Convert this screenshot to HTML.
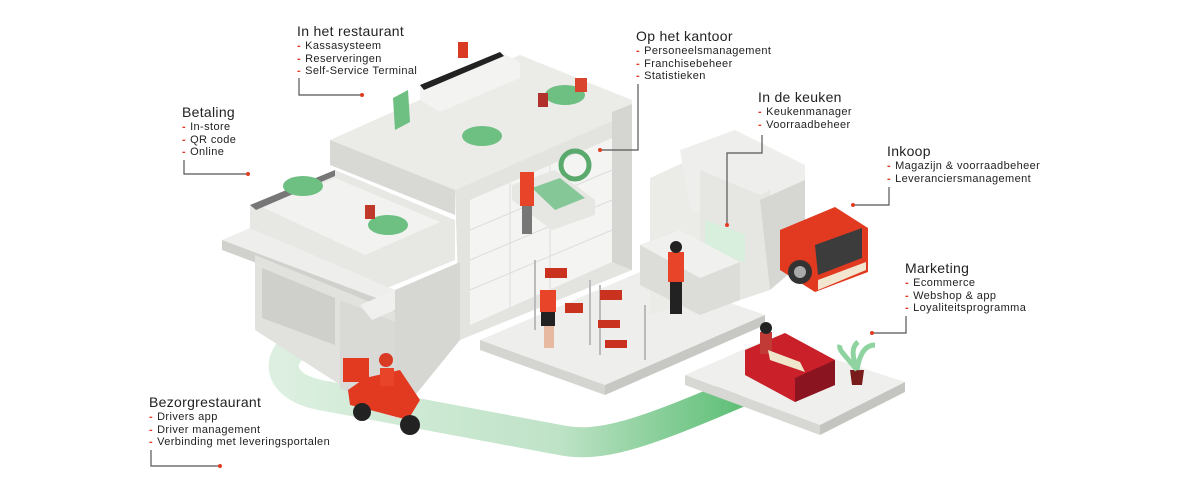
<!DOCTYPE html>
<html><head><meta charset="utf-8"><style>
html,body{margin:0;padding:0;background:#fff;}
body{width:1200px;height:500px;overflow:hidden;position:relative;font-family:"Liberation Sans","DejaVu Sans",sans-serif;}
svg{position:absolute;left:0;top:0;}
.lbl{position:absolute;color:#222;}
.lbl .t{font-size:14px;line-height:16px;margin-bottom:1px;letter-spacing:0.3px;}
.lbl .i{font-size:11px;line-height:12.5px;white-space:nowrap;letter-spacing:0.4px;}
.lbl .i:before{content:"-";color:#e03c22;font-weight:bold;margin-right:4px;}
</style></head><body>
<svg width="1200" height="500" viewBox="0 0 1200 500">
<defs>
<linearGradient id="gp" x1="0" y1="0" x2="1" y2="0"><stop offset="0" stop-color="#dcefe0"/><stop offset="0.6" stop-color="#bfe3c7"/><stop offset="1" stop-color="#5fbf77"/></linearGradient>
</defs>
<path d="M330 330 C270 345,270 385,320 395 L560 440 C600 448,640 435,740 392" fill="none" stroke="url(#gp)" stroke-width="30" stroke-linejoin="round"/>
<polygon points="330,140 520,55 632,100 632,112 455,190 330,160" fill="#ebebe8"/>
<polygon points="330,140 330,165 455,215 455,190" fill="#d8d8d4"/>
<polygon points="420,85 500,52 520,62 520,78 440,112 420,100" fill="#f3f3f1"/>
<polygon points="420,85 500,52 504,56 424,90" fill="#222"/>
<polygon points="393,98 408,90 410,122 395,130" fill="#6dbf82"/>
<polygon points="455,190 632,112 632,270 460,340" fill="#e3e3e0"/>
<polygon points="470,200 612,138 612,262 470,325" fill="#f4f4f2"/>
<g stroke="#ddd" stroke-width="1">
<line x1="470" y1="230" x2="612" y2="170"/><line x1="470" y1="260" x2="612" y2="200"/><line x1="470" y1="290" x2="612" y2="230"/>
<line x1="510" y1="183" x2="510" y2="307"/><line x1="550" y1="165" x2="550" y2="290"/>
</g>
<polygon points="612,112 632,104 632,270 612,262" fill="#d5d5d2"/>
<circle cx="575" cy="165" r="14" fill="none" stroke="#5aaa6e" stroke-width="5"/>
<polygon points="512,185 555,170 595,200 595,215 552,230 512,200" fill="#e6e6e3"/>
<polygon points="532,188 560,178 585,198 555,210" fill="#86c798"/>
<polygon points="250,205 335,170 455,220 455,260 370,295 250,245" fill="#e7e7e4"/>
<polygon points="262,207 335,178 440,222 365,255" fill="#f2f2f0"/>
<polygon points="250,205 335,170 335,176 256,210" fill="#777"/>
<ellipse cx="303" cy="186" rx="20" ry="10" fill="#6dbf82"/>
<ellipse cx="388" cy="225" rx="20" ry="10" fill="#6dbf82"/>
<ellipse cx="482" cy="136" rx="20" ry="10" fill="#6dbf82"/>
<ellipse cx="565" cy="95" rx="20" ry="10" fill="#6dbf82"/>
<polygon points="222,240 250,228 395,290 395,305" fill="#eeeeec"/>
<polygon points="222,240 395,305 395,315 222,250" fill="#d0d0cd"/>
<polygon points="255,255 395,312 395,420 255,330" fill="#e1e1de"/>
<polygon points="262,268 335,298 335,345 262,318" fill="#cfcfcc"/>
<polygon points="340,300 395,322 395,412 340,388" fill="#d9d9d6"/>
<polygon points="395,290 460,262 460,340 395,420" fill="#d6d6d3"/>
<polygon points="360,305 395,290 395,310 372,320" fill="#f0f0ee"/>
<rect x="458" y="42" width="10" height="16" fill="#d93a24"/>
<rect x="520" y="172" width="14" height="34" fill="#e8442a"/><rect x="522" y="206" width="10" height="28" fill="#777"/>
<rect x="365" y="205" width="10" height="14" fill="#c0382a"/>
<rect x="575" y="78" width="12" height="14" fill="#d9442e"/>
<rect x="538" y="93" width="10" height="14" fill="#b2302a"/>
<polygon points="480,340 640,272 765,315 605,385" fill="#eeeeec"/>
<polygon points="480,340 605,385 605,395 480,350" fill="#d4d4d1"/>
<polygon points="605,385 765,315 765,325 605,395" fill="#c7c7c4"/>
<g stroke="#bbb" stroke-width="2" fill="none">
<polyline points="535,260 535,330"/><polyline points="590,280 590,345"/><polyline points="600,285 600,355"/><polyline points="645,305 645,360"/>
</g>
<g fill="#c8321e"><rect x="545" y="268" width="22" height="10"/><rect x="565" y="303" width="18" height="10"/><rect x="600" y="290" width="22" height="10"/><rect x="598" y="320" width="22" height="8"/><rect x="605" y="340" width="22" height="8"/></g>
<rect x="540" y="290" width="16" height="22" fill="#e8442a"/><rect x="541" y="312" width="14" height="14" fill="#222"/><rect x="544" y="326" width="10" height="22" fill="#e6b9a0"/>
<polygon points="650,178 700,155 700,300 650,315" fill="#ebebe8"/>
<polygon points="680,150 735,130 805,165 805,215 760,235 690,210" fill="#eeeeec"/>
<polygon points="700,170 760,195 770,190 770,290 740,300 700,280" fill="#e6e6e3"/>
<polygon points="760,200 805,180 805,260 770,290" fill="#d6d6d3"/>
<rect x="705" y="220" width="40" height="28" fill="#d7efdc" transform="skewY(20)" transform-origin="705 220"/>
<polygon points="640,245 680,230 740,262 740,300 700,315 640,285" fill="#dcdcd9"/>
<polygon points="640,245 680,230 740,262 700,278" fill="#f0f0ee"/>
<rect x="668" y="252" width="16" height="30" fill="#e8442a"/><rect x="670" y="282" width="12" height="32" fill="#222"/><circle cx="676" cy="247" r="6" fill="#222"/>
<polygon points="780,230 835,207 868,228 868,272 815,292 780,270" fill="#e13a20"/>
<polygon points="815,245 862,228 862,258 818,275" fill="#3c3c3c"/>
<circle cx="800" cy="272" r="12" fill="#333"/><circle cx="800" cy="272" r="6" fill="#aaa"/>
<polygon points="818,280 866,262 866,270 818,290" fill="#f2e6d0"/>
<polygon points="685,375 770,338 905,382 820,425" fill="#efefed"/>
<polygon points="685,375 820,425 820,435 685,385" fill="#d7d7d4"/>
<polygon points="820,425 905,382 905,392 820,435" fill="#c4c4c1"/>
<polygon points="745,350 785,333 835,360 835,385 795,402 745,375" fill="#c9202a"/>
<polygon points="795,378 835,360 835,385 795,402" fill="#8a1520"/>
<rect x="760" y="332" width="12" height="22" fill="#c23a35"/><circle cx="766" cy="328" r="6" fill="#222"/>
<polygon points="768,350 800,362 805,372 770,360" fill="#f0e6cc"/>
<polygon points="850,370 864,370 862,385 852,385" fill="#7a1b1b"/>
<path d="M857 370 C845 355,838 350,840 345 M857 370 C860 352,866 345,875 345 M857 368 C850 352,854 345,858 342" stroke="#8ed3a0" stroke-width="5" fill="none"/>
<rect x="343" y="358" width="26" height="24" fill="#e13a20"/>
<polygon points="365,378 400,370 420,400 408,420 370,410 350,405 348,390" fill="#e13a20"/>
<circle cx="362" cy="412" r="9" fill="#222"/><circle cx="410" cy="425" r="10" fill="#222"/>
<rect x="380" y="368" width="14" height="18" fill="#e8442a"/><circle cx="386" cy="360" r="7" fill="#d93a24"/>
<g stroke="#555" stroke-width="1.2" fill="none">
<polyline points="299,78 299,95 362,95"/>
<polyline points="184,160 184,174 248,174"/>
<polyline points="638,84 638,150 600,150"/>
<polyline points="762,135 762,153 727,153 727,225"/>
<polyline points="889,187 889,205 853,205"/>
<polyline points="906,316 906,333 872,333"/>
<polyline points="151,450 151,466 220,466"/>
</g>
<g fill="#e03c22">
<circle cx="362" cy="95" r="2"/><circle cx="248" cy="174" r="2"/><circle cx="600" cy="150" r="2"/><circle cx="727" cy="225" r="2"/><circle cx="853" cy="205" r="2"/><circle cx="872" cy="333" r="2"/><circle cx="220" cy="466" r="2"/>
</g>
</svg>
<div class="lbl" style="left:297px;top:23px"><div class="t">In het restaurant</div><div class="i">Kassasysteem</div><div class="i">Reserveringen</div><div class="i">Self-Service Terminal</div></div>
<div class="lbl" style="left:182px;top:104px"><div class="t">Betaling</div><div class="i">In-store</div><div class="i">QR code</div><div class="i">Online</div></div>
<div class="lbl" style="left:636px;top:28px"><div class="t">Op het kantoor</div><div class="i">Personeelsmanagement</div><div class="i">Franchisebeheer</div><div class="i">Statistieken</div></div>
<div class="lbl" style="left:758px;top:89px"><div class="t">In de keuken</div><div class="i">Keukenmanager</div><div class="i">Voorraadbeheer</div></div>
<div class="lbl" style="left:887px;top:143px"><div class="t">Inkoop</div><div class="i">Magazijn &amp; voorraadbeheer</div><div class="i">Leveranciersmanagement</div></div>
<div class="lbl" style="left:905px;top:260px"><div class="t">Marketing</div><div class="i">Ecommerce</div><div class="i">Webshop &amp; app</div><div class="i">Loyaliteitsprogramma</div></div>
<div class="lbl" style="left:149px;top:394px"><div class="t">Bezorgrestaurant</div><div class="i">Drivers app</div><div class="i">Driver management</div><div class="i">Verbinding met leveringsportalen</div></div>
</body></html>
